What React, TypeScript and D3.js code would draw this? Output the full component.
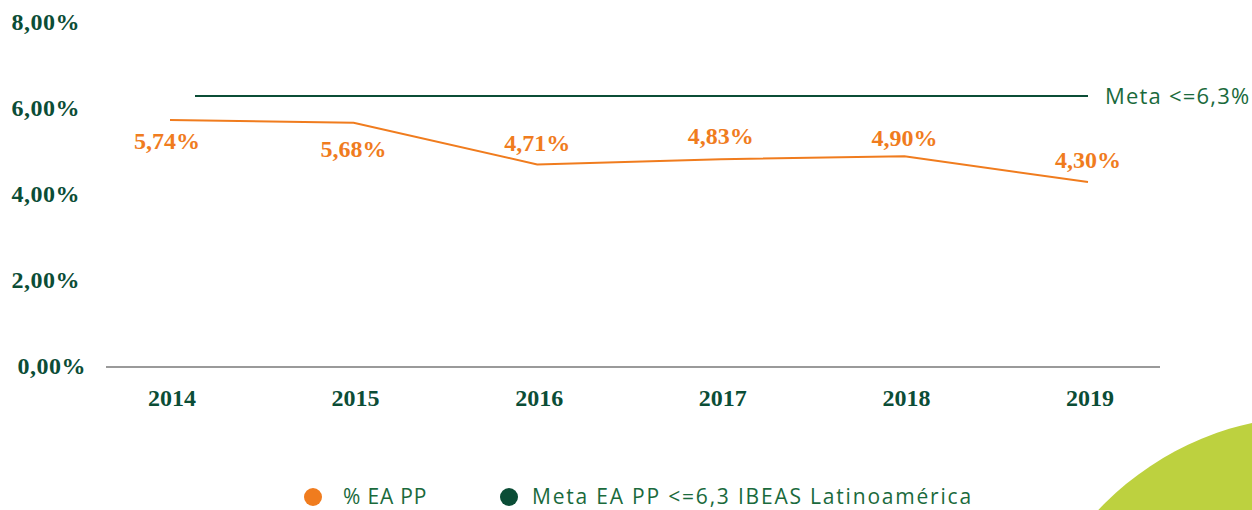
import React from "react";
import * as d3 from "d3";

const years = ["2014", "2015", "2016", "2017", "2018", "2019"];
const eaValues = [5.74, 5.68, 4.71, 4.83, 4.9, 4.3];
const eaLabels = ["5,74%", "5,68%", "4,71%", "4,83%", "4,90%", "4,30%"];
const metaValue = 6.3;
const metaLabel = "Meta <=6,3%";
const yTicks = [0, 2, 4, 6, 8];
const yTickLabels = ["0,00%", "2,00%", "4,00%", "6,00%", "8,00%"];
const legendItems = ["% EA PP", "Meta EA PP <=6,3 IBEAS Latinoamérica"];

const ORANGE = "#f07c1e";
const DARK = "#0b4d36";
const GREEN_TXT = "#1a6a3c";
const LIME = "#bdd13f";
const SERIF = "'Liberation Serif', 'Times New Roman', serif";
const SANS = "'Open Sans', 'Noto Sans', sans-serif";

// label offsets: below for first two, above for rest
const labelDy = [21, 26, -22, -24, -19, -22];

export default function App() {
  const W = 1252, H = 510;
  const x = d3.scalePoint<string>().domain(years).range([170, 1088]);
  const y = d3.scaleLinear().domain([0, 6.3]).range([367, 96]);
  const line = d3
    .line<number>()
    .x((_, i) => x(years[i])!)
    .y((d) => y(d));

  return (
    <svg
      width={W}
      height={H}
      style={{ position: "absolute", left: 0, top: 0, display: "block" }}
    >
      <rect width={W} height={H} fill="#fff" />
      <circle cx={1316} cy={715} r={299} fill={LIME} />
      {/* y tick labels */}
      {yTicks.map((t, i) => (
        <text
          key={t}
          x={t === 0 ? 86 : 80}
          y={y(t) - 1.5}
          dy="0.35em"
          textAnchor="end"
          fontFamily={SERIF}
          fontWeight="bold"
          fontSize={24}
          letterSpacing={0.5}
          fill={DARK}
        >
          {yTickLabels[i]}
        </text>
      ))}
      {/* x axis */}
      <line x1={106} x2={1160} y1={y(0)} y2={y(0)} stroke="#9a9a9a" strokeWidth={2} />
      {years.map((yr) => (
        <text
          key={yr}
          x={x(yr)! + 2}
          y={398}
          dy="0.35em"
          textAnchor="middle"
          fontFamily={SERIF}
          fontWeight="bold"
          fontSize={24}
          fill={DARK}
        >
          {yr}
        </text>
      ))}
      {/* meta line */}
      <line
        x1={x(years[0])! + 25}
        x2={x(years[years.length - 1])!}
        y1={y(metaValue)}
        y2={y(metaValue)}
        stroke={DARK}
        strokeWidth={2}
      />
      <text
        x={1105}
        y={y(metaValue)}
        dy="0.35em"
        fontFamily={SANS}
        fontSize={22}
        letterSpacing={1.2}
        fill={GREEN_TXT}
      >
        {metaLabel}
      </text>
      {/* EA line */}
      <path d={line(eaValues)!} fill="none" stroke={ORANGE} strokeWidth={2} />
      {eaValues.map((v, i) => (
        <text
          key={i}
          x={x(years[i])! - (i === 0 ? 3 : 0)}
          y={y(v) + labelDy[i]}
          dy="0.35em"
          textAnchor="middle"
          fontFamily={SERIF}
          fontWeight="bold"
          fontSize={24}
          fill={ORANGE}
        >
          {eaLabels[i]}
        </text>
      ))}
      {/* legend */}
      <circle cx={313} cy={497} r={9} fill={ORANGE} />
      <text x={343} y={497} dy="0.35em" fontFamily={SANS} fontSize={21} letterSpacing={0.8} fill={GREEN_TXT}>
        {legendItems[0]}
      </text>
      <circle cx={509} cy={497} r={9} fill={DARK} />
      <text x={532} y={497} dy="0.35em" fontFamily={SANS} fontSize={21} letterSpacing={1.8} fill={GREEN_TXT}>
        {legendItems[1]}
      </text>
    </svg>
  );
}
